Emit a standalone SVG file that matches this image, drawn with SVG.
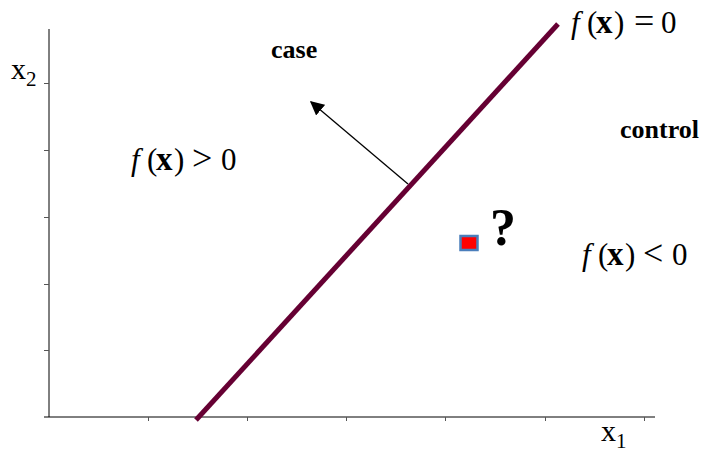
<svg xmlns="http://www.w3.org/2000/svg" width="702" height="453" viewBox="0 0 702 453">
<style>
.ax{stroke:#000;stroke-width:1;fill:none}
.tk{stroke:#555;stroke-width:1}
.t{font-family:"Liberation Serif","Times New Roman",serif;fill:#000}
.eq{font-size:31px}
.bx{font-weight:bold;font-size:33px}
.op{font-size:36px}
.lab{font-size:26px;font-weight:bold}
</style>
<defs>
<marker id="ah" viewBox="0 0 10 10" refX="9" refY="5" markerWidth="14" markerHeight="14" markerUnits="userSpaceOnUse" orient="auto">
<path d="M0,0 L10,5 L0,10 z" fill="#000"/>
</marker>
</defs>
<g id="axes">
<line class="ax" x1="49" y1="29" x2="49" y2="417"/>
<line class="ax" x1="44" y1="417" x2="655" y2="417" stroke="#888"/>
<g class="tk">
<line x1="44" y1="83.5" x2="49" y2="83.5"/>
<line x1="44" y1="150.5" x2="49" y2="150.5"/>
<line x1="44" y1="217.5" x2="49" y2="217.5"/>
<line x1="44" y1="284.5" x2="49" y2="284.5"/>
<line x1="44" y1="350.5" x2="49" y2="350.5"/>
<line x1="148.5" y1="417" x2="148.5" y2="421"/>
<line x1="247.5" y1="417" x2="247.5" y2="421"/>
<line x1="346.5" y1="417" x2="346.5" y2="421"/>
<line x1="445.5" y1="417" x2="445.5" y2="421"/>
<line x1="545.5" y1="417" x2="545.5" y2="421"/>
<line x1="644.5" y1="417" x2="644.5" y2="421"/>
</g>
<text class="t" x="11" y="79" font-size="30">x<tspan font-size="21" dy="7">2</tspan></text>
<text class="t" x="601" y="441" font-size="30">x<tspan font-size="21" dy="7">1</tspan></text>
</g>
<g id="connectors">
<line x1="196" y1="420" x2="558" y2="24" stroke="#660033" stroke-width="5"/>
<line x1="408" y1="184" x2="311" y2="102" stroke="#000" stroke-width="1.3" marker-end="url(#ah)"/>
</g>
<g id="labels">
<text class="t eq" y="33"><tspan x="571" font-style="italic">f</tspan><tspan x="587">(</tspan><tspan class="bx" x="596">x</tspan><tspan x="614">)</tspan><tspan class="op" x="634">=</tspan><tspan x="661">0</tspan></text>
<text class="t eq" y="170"><tspan x="131" font-style="italic">f</tspan><tspan x="147">(</tspan><tspan class="bx" x="156">x</tspan><tspan x="174">)</tspan><tspan class="op" x="192">&gt;</tspan><tspan x="221">0</tspan></text>
<text class="t eq" y="265"><tspan x="582" font-style="italic">f</tspan><tspan x="598">(</tspan><tspan class="bx" x="607">x</tspan><tspan x="625">)</tspan><tspan class="op" x="643">&lt;</tspan><tspan x="672">0</tspan></text>
<text class="t lab" x="271" y="58">case</text>
<text class="t lab" x="620" y="138">control</text>
</g>
<g id="point">
<rect x="460.5" y="236" width="17" height="14" fill="#ff0000" stroke="#4a7ebb" stroke-width="2.5"/>
<text class="t" x="490" y="245" font-size="52" font-weight="bold">?</text>
</g>
</svg>
